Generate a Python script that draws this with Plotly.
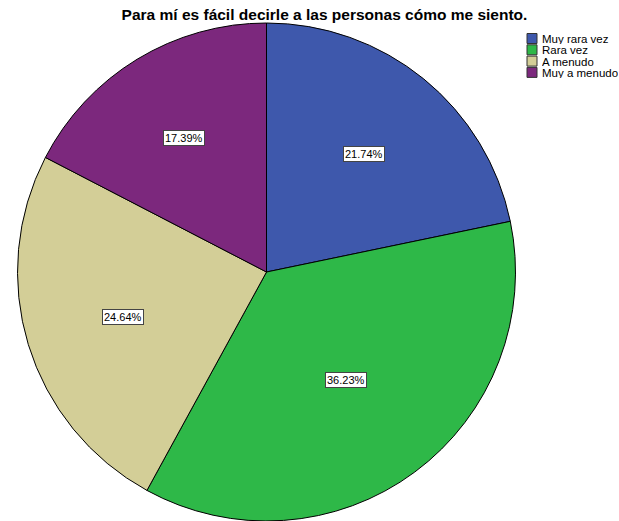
import math
import plotly.graph_objects as go

categories = ["Muy rara vez", "Rara vez", "A menudo", "Muy a menudo"]
counts = [15, 25, 17, 12]
colors = ["#3E58AC", "#2EB848", "#D3CE97", "#7C287D"]
title = "Para mí es fácil decirle a las personas cómo me siento."

W, H = 619, 521
cx, cy, R = 266.5, 273, 250


def px(X):
    return X / W


def py(Y):
    return 1 - Y / H


fig = go.Figure(go.Pie(
    labels=categories, values=counts, sort=False, direction="clockwise", rotation=0,
    marker=dict(colors=colors, line=dict(color="#000000", width=1)),
    textinfo="none", hoverinfo="label+percent", showlegend=False,
    domain=dict(x=[px(cx - R), px(cx + R)], y=[max(0, py(cy + R)), py(cy - R)]),
))

FONT = "Liberation Sans, Arial"
total = sum(counts)
cum = 0
for v in counts:
    half = v / total * math.pi  # half-angle of the slice
    mid = cum / total * 2 * math.pi + half
    cum += v
    rc = 2 * R * math.sin(half) / (3 * half)  # sector centroid distance
    X = cx + rc * math.sin(mid)
    Y = cy - rc * math.cos(mid)
    fig.add_annotation(
        x=px(X), y=py(Y), xref="paper", yref="paper",
        xanchor="center", yanchor="middle",
        text=f"{v / total * 100:.2f}%", showarrow=False,
        font=dict(family=FONT, size=11, color="#000"),
        bgcolor="#ffffff", bordercolor="#444444", borderwidth=1, borderpad=1,
    )

# legend (SPSS style, tight rows)
for i, (cat, col) in enumerate(zip(categories, colors)):
    yc = 38.5 + i * 11.3
    fig.add_shape(type="rect", xref="paper", yref="paper",
                  x0=px(527), x1=px(537), y0=py(yc - 5), y1=py(yc + 5),
                  fillcolor=col, line=dict(color="#333333", width=1))
    fig.add_annotation(x=px(540.5), y=py(yc), xref="paper", yref="paper",
                       text=cat, showarrow=False, xanchor="left", yanchor="middle",
                       height=11, borderpad=0,
                       font=dict(family=FONT, size=11.5, color="#000"))

fig.update_layout(
    width=W, height=H,
    margin=dict(l=0, r=0, t=0, b=0),
    paper_bgcolor="#ffffff",
    showlegend=False,
    title=dict(text=f"<b>{title}</b>", x=px(324.5), xanchor="center", y=py(15), yanchor="middle",
               font=dict(family=FONT, size=15.5, color="#000")),
)

fig.write_html("out.html", config={"displayModeBar": False},
               post_script="document.body.style.margin='0';")
